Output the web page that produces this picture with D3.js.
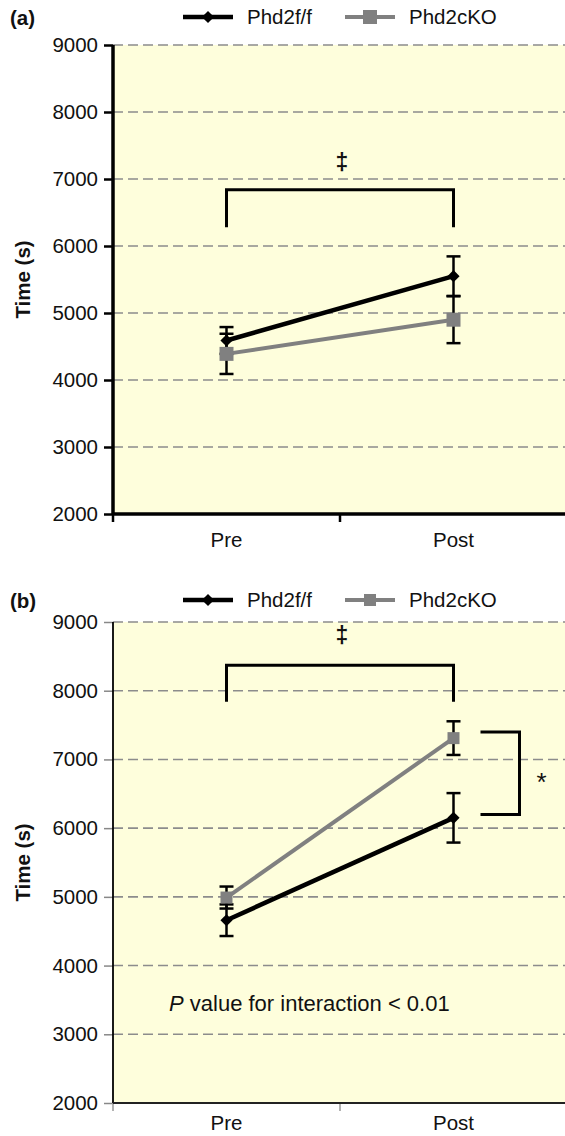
<!DOCTYPE html>
<html>
<head>
<meta charset="utf-8">
<script src="https://cdn.jsdelivr.net/npm/d3@7"></script>
<style>
  body { margin: 0; background: #fff; }
  text { font-family: Arial, "Liberation Sans", sans-serif; fill: #111; }
</style>
</head>
<body>
<div id="chart"></div>
<script>
// categories, series and ticks
const groups = ["Pre", "Post"];
const seriesNames = ["Phd2f/f", "Phd2cKO"];
const yTicks = [2000, 3000, 4000, 5000, 6000, 7000, 8000, 9000];

// panel (a)
const aFloxMean = [4590, 5550];
const aFloxErr = [200, 295];
const aKoMean = [4390, 4900];
const aKoErr = [300, 350];
const aBracket = [6840, 6280];   // top, foot of the Pre-Post bracket
const aDagger = 7260;

// panel (b)
const bFloxMean = [4660, 6150];
const bFloxErr = [230, 360];
const bKoMean = [4990, 7310];
const bKoErr = [160, 245];
const bBracket = [8370, 7840];
const bDagger = 8810;
const bStarBracket = [7400, 6200];
const bNote = 3340;

const width = 565, height = 1136;
const fs = '20.5px';

const svg = d3.select('#chart')
    .append('svg')
    .attr('width', width)
    .attr('height', height);

const drawPanel = cfg => {
    const g = svg.append('g');

    const y = d3.scaleLinear()
        .domain([2000, 9000])
        .range([cfg.bottom, cfg.top]);

    const x = d3.scaleBand()
        .domain(groups)
        .range([cfg.left, cfg.right]);

    const cx = d => x(d) + x.bandwidth() / 2;

    // plot background
    g.append('rect')
        .attr('x', cfg.left)
        .attr('y', cfg.top)
        .attr('width', width - cfg.left)
        .attr('height', cfg.bottom - cfg.top)
        .style('fill', '#fefedc');

    // dashed grid
    g.selectAll('.grid')
        .data(yTicks.filter(t => t > 2000))
        .enter()
        .append('line')
        .attr('x1', cfg.left)
        .attr('x2', width)
        .attr('y1', d => y(d))
        .attr('y2', d => y(d))
        .style('stroke', '#8c8c8c')
        .style('stroke-width', 1.6)
        .style('stroke-dasharray', '10 5');

    // y axis
    const yAxis = d3.axisLeft(y)
        .tickValues(yTicks)
        .tickFormat(d3.format('d'))
        .tickSize(9)
        .tickPadding(6);
    const ya = g.append('g')
        .attr('transform', `translate(${cfg.left},0)`)
        .call(yAxis);
    ya.select('.domain').remove();
    ya.selectAll('.tick line')
        .style('stroke', cfg.thick ? '#000' : '#888')
        .style('stroke-width', cfg.thick ? 2.5 : 1.5);
    ya.selectAll('.tick text')
        .style('font-size', fs)
        .style('fill', '#111');
    g.append('line')
        .attr('x1', cfg.left).attr('x2', cfg.left)
        .attr('y1', cfg.top).attr('y2', cfg.bottom)
        .style('stroke', '#000')
        .style('stroke-width', cfg.thick ? 3.5 : 1.8);

    // x axis
    const xAxis = d3.axisBottom(x).tickSize(0).tickPadding(cfg.labelPad);
    const xa = g.append('g')
        .attr('transform', `translate(0,${cfg.bottom})`)
        .call(xAxis);
    xa.select('.domain').remove();
    xa.selectAll('.tick text')
        .style('font-size', fs)
        .style('fill', '#111');
    g.selectAll('.xtick')
        .data(groups.map(d => x(d)).concat([cfg.right]))
        .enter()
        .append('line')
        .attr('x1', d => d).attr('x2', d => d)
        .attr('y1', cfg.bottom).attr('y2', cfg.bottom + 8)
        .style('stroke', cfg.thick ? '#000' : '#999')
        .style('stroke-width', cfg.thick ? 2.5 : 1.5);
    g.append('line')
        .attr('x1', cfg.left).attr('x2', width)
        .attr('y1', cfg.bottom).attr('y2', cfg.bottom)
        .style('stroke', cfg.thick ? '#000' : '#222')
        .style('stroke-width', cfg.thick ? 3.5 : 1.8);

    // axis title and panel label
    g.append('text')
        .attr('transform', `translate(30,${(cfg.top + cfg.bottom) / 2}) rotate(-90)`)
        .attr('text-anchor', 'middle')
        .style('font-size', fs)
        .style('font-weight', 'bold')
        .text('Time (s)');
    g.append('text')
        .attr('x', 10)
        .attr('y', cfg.labelY)
        .style('font-size', fs)
        .style('font-weight', 'bold')
        .text(cfg.label);

    // significance bracket Pre vs Post
    const br = d3.path();
    br.moveTo(cx('Pre'), y(cfg.bracket[1]));
    br.lineTo(cx('Pre'), y(cfg.bracket[0]));
    br.lineTo(cx('Post'), y(cfg.bracket[0]));
    br.lineTo(cx('Post'), y(cfg.bracket[1]));
    g.append('path')
        .attr('d', br.toString())
        .style('fill', 'none')
        .style('stroke', '#000')
        .style('stroke-width', 3);
    g.append('text')
        .attr('x', (cx('Pre') + cx('Post')) / 2 + 2)
        .attr('y', y(cfg.dagger))
        .attr('dy', '0.35em')
        .attr('text-anchor', 'middle')
        .style('font-size', '23px')
        .style('font-weight', 'bold')
        .text('\u2021');

    // series
    const series = [
        { name: seriesNames[0], mean: cfg.flox, err: cfg.floxErr, color: '#000', lw: 4.5, shape: 'diamond' },
        { name: seriesNames[1], mean: cfg.ko, err: cfg.koErr, color: '#808080', lw: 4, shape: 'square' }
    ];

    const diamond = d3.symbol().type(d3.symbolSquare).size(74);
    const square = d3.symbol().type(d3.symbolSquare).size(cfg.sq * cfg.sq);

    const marker = (sel, s, px, py) => {
        sel.append('path')
            .attr('d', s.shape === 'diamond' ? diamond() : square())
            .attr('transform', `translate(${px},${py})` + (s.shape === 'diamond' ? ' rotate(45)' : ''))
            .style('fill', s.color);
    };

    const line = d3.line()
        .x((d, i) => cx(groups[i]))
        .y(d => y(d));

    series.forEach(s => {
        const eg = g.append('g');
        groups.forEach((grp, i) => {
            const hi = y(s.mean[i] + s.err[i]);
            const lo = y(s.mean[i] - s.err[i]);
            const px = cx(grp);
            eg.append('line')
                .attr('x1', px).attr('x2', px).attr('y1', hi).attr('y2', lo);
            eg.append('line')
                .attr('x1', px - 7).attr('x2', px + 7).attr('y1', hi).attr('y2', hi);
            eg.append('line')
                .attr('x1', px - 7).attr('x2', px + 7).attr('y1', lo).attr('y2', lo);
        });
        eg.selectAll('line')
            .style('stroke', '#000')
            .style('stroke-width', 2.5);

        g.append('path')
            .data([s.mean])
            .attr('d', line)
            .style('fill', 'none')
            .style('stroke', s.color)
            .style('stroke-width', s.lw);

        groups.forEach((grp, i) => marker(g, s, cx(grp), y(s.mean[i])));
    });

    // legend
    const legendX = [183, 345];
    series.forEach((s, i) => {
        const lx = legendX[i];
        g.append('line')
            .attr('x1', lx).attr('x2', lx + 50)
            .attr('y1', cfg.legendY).attr('y2', cfg.legendY)
            .style('stroke', s.color)
            .style('stroke-width', s.lw);
        marker(g, s, lx + 25, cfg.legendY);
        g.append('text')
            .attr('x', lx + 64)
            .attr('y', cfg.legendY)
            .attr('dy', '0.36em')
            .style('font-size', fs)
            .text(s.name);
    });

    return { g, x, y, cx };
};

const pa = drawPanel({
    label: '(a)', top: 45, bottom: 514, left: 113, right: 567,
    labelY: 25, legendY: 17, labelPad: 18, thick: true, sq: 14,
    flox: aFloxMean, floxErr: aFloxErr, ko: aKoMean, koErr: aKoErr,
    bracket: aBracket, dagger: aDagger
});

const pb = drawPanel({
    label: '(b)', top: 622, bottom: 1103, left: 113, right: 567,
    labelY: 608, legendY: 600, labelPad: 12, thick: false, sq: 12,
    flox: bFloxMean, floxErr: bFloxErr, ko: bKoMean, koErr: bKoErr,
    bracket: bBracket, dagger: bDagger
});

// panel (b) extras: group difference at Post and the interaction note
const postX = pb.cx('Post');
const sb = d3.path();
sb.moveTo(postX + 27, pb.y(bStarBracket[0]));
sb.lineTo(postX + 66, pb.y(bStarBracket[0]));
sb.lineTo(postX + 66, pb.y(bStarBracket[1]));
sb.lineTo(postX + 27, pb.y(bStarBracket[1]));
pb.g.append('path')
    .attr('d', sb.toString())
    .style('fill', 'none')
    .style('stroke', '#000')
    .style('stroke-width', 3);
pb.g.append('text')
    .attr('x', postX + 88)
    .attr('y', pb.y((bStarBracket[0] + bStarBracket[1]) / 2))
    .attr('dy', '0.7em')
    .attr('text-anchor', 'middle')
    .style('font-size', '26px')
    .text('*');

const note = pb.g.append('text')
    .attr('x', 169)
    .attr('y', pb.y(bNote))
    .style('font-size', '22px');
note.append('tspan').style('font-style', 'italic').text('P');
note.append('tspan').text(' value for interaction < 0.01');
</script>
</body>
</html>
